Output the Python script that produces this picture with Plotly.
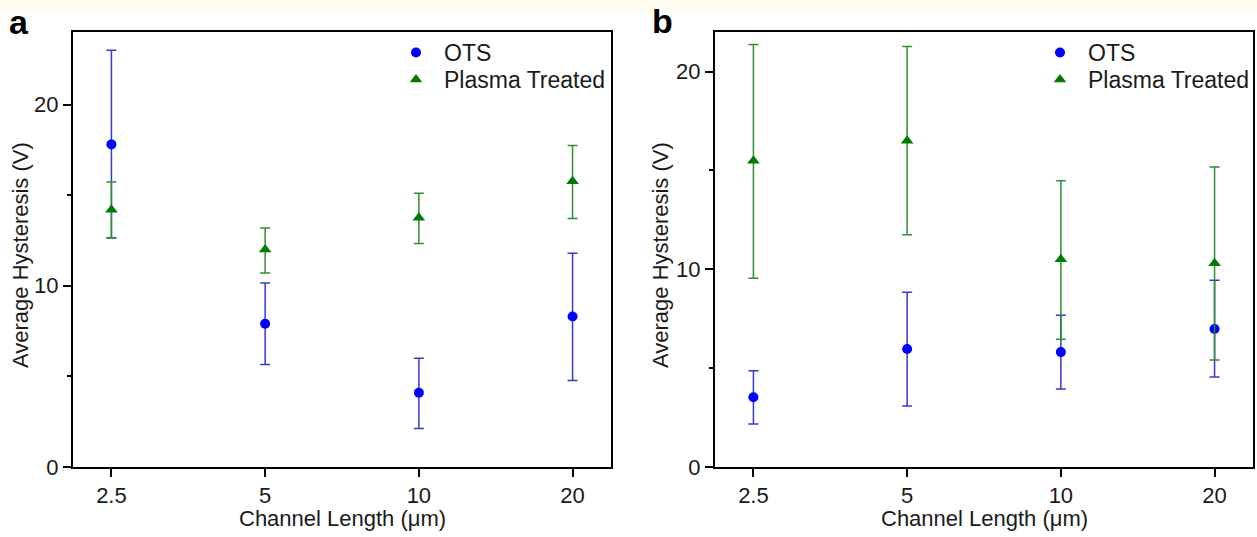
import plotly.graph_objects as go

# Channel lengths (µm) shown as evenly spaced categories
channel_labels = ["2.5", "5", "10", "20"]
positions = [0, 1, 2, 3]

# Panel a: mean hysteresis (V) with upper / lower error-bar ends
a_ots_mean = [17.8, 7.9, 4.1, 8.3]
a_ots_upper = [23.0, 10.15, 6.0, 11.8]
a_ots_lower = [12.65, 5.65, 2.12, 4.77]
a_pt_mean = [14.2, 12.0, 13.75, 15.77]
a_pt_upper = [15.73, 13.19, 15.1, 17.74]
a_pt_lower = [12.64, 10.71, 12.33, 13.71]

# Panel b: mean hysteresis (V) with upper / lower error-bar ends
b_ots_mean = [3.53, 5.97, 5.81, 6.98]
b_ots_upper = [4.87, 8.84, 7.67, 9.45]
b_ots_lower = [2.18, 3.09, 3.95, 4.55]
b_pt_mean = [15.49, 16.5, 10.51, 10.31]
b_pt_upper = [21.37, 21.27, 14.48, 15.17]
b_pt_lower = [9.55, 11.74, 6.46, 5.41]

W, H = 1257, 537
FONT = "Liberation Sans, Arial, sans-serif"
TEXT = "#1a1a1a"
BLUE = "#0000ff"
BLUE_ERR = "#3838d0"
GREEN = "#007a00"
GREEN_ERR = "#2f8f2f"


def px_x(p):
    return p / W


def px_y(p):
    return 1 - p / H


def series(mean, upper, lower, name, symbol, color, err_color, xa, ya, legend):
    return go.Scatter(
        x=positions, y=mean, mode="markers", name=name,
        xaxis=xa, yaxis=ya, legend=legend, showlegend=True,
        marker=dict(symbol=symbol, size=10 if symbol == "circle" else 11, color=color),
        error_y=dict(
            type="data", symmetric=False,
            array=[u - m for u, m in zip(upper, mean)],
            arrayminus=[m - l for m, l in zip(mean, lower)],
            color=err_color, thickness=1.5, width=5,
        ),
    )


fig = go.Figure()
fig.add_trace(series(a_ots_mean, a_ots_upper, a_ots_lower, "OTS", "circle", BLUE, BLUE_ERR, "x", "y", "legend"))
fig.add_trace(series(a_pt_mean, a_pt_upper, a_pt_lower, "Plasma Treated", "triangle-up", GREEN, GREEN_ERR, "x", "y", "legend2"))
fig.add_trace(series(b_ots_mean, b_ots_upper, b_ots_lower, "OTS", "circle", BLUE, BLUE_ERR, "x2", "y2", "legend3"))
fig.add_trace(series(b_pt_mean, b_pt_upper, b_pt_lower, "Plasma Treated", "triangle-up", GREEN, GREEN_ERR, "x2", "y2", "legend4"))

plot_top, plot_bottom = 32, 467
ydom = [px_y(plot_bottom), px_y(plot_top)]

tick_font = dict(family=FONT, size=22, color=TEXT)
xcommon = dict(
    range=[-0.25, 3.25], tickmode="array", tickvals=positions, ticktext=channel_labels,
    showline=True, linecolor="black", linewidth=2, mirror=True,
    ticks="outside", ticklen=8, tickwidth=1.5, tickcolor="black",
    showgrid=False, zeroline=False, automargin=False, tickfont=tick_font,
)
ycommon = dict(
    tickmode="linear", tick0=0, dtick=10,
    showline=True, linecolor="black", linewidth=2, mirror=True,
    ticks="outside", ticklen=8, tickwidth=1.5, tickcolor="black",
    minor=dict(dtick=5, ticks="outside", ticklen=4, tickwidth=1.5, tickcolor="black"),
    showgrid=False, zeroline=False, automargin=False, tickfont=tick_font,
)

legend_style = dict(
    font=dict(family=FONT, size=23, color=TEXT),
    bgcolor="rgba(0,0,0,0)", borderwidth=0,
    xanchor="left", yanchor="top", itemwidth=46,
)
row1_top, row2_top = 31, 58

fig.update_layout(
    width=W, height=H,
    showlegend=True,
    margin=dict(l=0, r=0, t=0, b=0),
    paper_bgcolor="white", plot_bgcolor="white",
    xaxis=dict(domain=[px_x(73), px_x(611)], anchor="y", **xcommon),
    yaxis=dict(domain=ydom, anchor="x", range=[0, 24], **ycommon),
    xaxis2=dict(domain=[px_x(715), px_x(1253)], anchor="y2", **xcommon),
    yaxis2=dict(domain=ydom, anchor="x2", range=[0, 22], **ycommon),
    legend=dict(x=px_x(388), y=px_y(row1_top), **legend_style),
    legend2=dict(x=px_x(388), y=px_y(row2_top), **legend_style),
    legend3=dict(x=px_x(1032), y=px_y(row1_top), **legend_style),
    legend4=dict(x=px_x(1032), y=px_y(row2_top), **legend_style),
    shapes=[dict(type="rect", xref="paper", yref="paper", x0=0, x1=1,
                 y0=px_y(13), y1=1, fillcolor="#fffcf0", line=dict(width=0), layer="below")],
)

title_font = dict(family=FONT, size=22, color=TEXT)
letter_font = dict(family=FONT, size=34, color="black")
annotations = [
    dict(text="<b>a</b>", x=px_x(7), y=px_y(22), xanchor="left", yanchor="middle",
         font=letter_font, showarrow=False),
    dict(text="<b>b</b>", x=px_x(650), y=px_y(21), xanchor="left", yanchor="middle",
         font=letter_font, showarrow=False),
]
for cx in (20, 660):
    annotations.append(dict(text="Average Hysteresis (V)", x=px_x(cx), y=px_y(255),
                            textangle=-90, xanchor="center", yanchor="middle",
                            font=title_font, showarrow=False))
for cx in (342, 984):
    annotations.append(dict(text="Channel Length (μm)", x=px_x(cx), y=px_y(518),
                            xanchor="center", yanchor="middle",
                            font=title_font, showarrow=False))
for a in annotations:
    a["xref"] = "paper"
    a["yref"] = "paper"
fig.update_layout(annotations=annotations)

fig.write_html("out.html")
